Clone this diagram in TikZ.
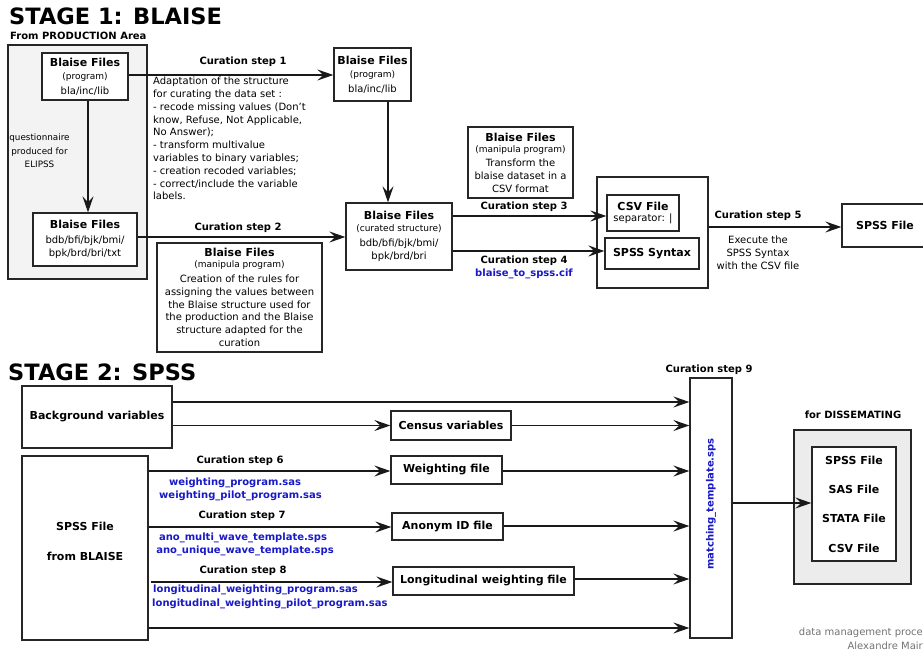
\documentclass[tikz,border=0pt]{standalone}
\usepackage{fontspec}
\setmainfont{DejaVu Sans}
\usetikzlibrary{arrows.meta}
\definecolor{fileblue}{RGB}{25,25,200}
\definecolor{prodgray}{RGB}{243,243,243}
\definecolor{dissgray}{RGB}{236,236,236}
\newcommand\fhdr{\fontsize{11}{13}\selectfont\bfseries}
\newcommand\fsubt{\fontsize{9}{11}\selectfont}
\newcommand\fbody{\fontsize{10}{12.8}\selectfont}
\newcommand\flab{\fontsize{10}{12.5}\selectfont\bfseries}
\newcommand\fbig{\fontsize{11}{29.3}\selectfont\bfseries}
\newcommand\ftitle{\fontsize{22.5}{26}\selectfont\bfseries}
\tikzset{
  box/.style={draw=black!85, line width=1.3pt, inner sep=0pt, align=center, font=\fbody},
  arr/.style={draw=black!90, line width=1.2pt, -{Stealth[length=16pt,width=11pt,inset=6pt]}},
  lab/.style={inner sep=0pt, font=\flab},
  bluetxt/.style={inner sep=0pt, font=\flab, text=fileblue, align=center},
  txt/.style={inner sep=0pt, font=\fbody, align=center}
}
\begin{document}
\begin{tikzpicture}[x=1pt,y=-1pt]
\path[use as bounding box, fill=white] (0,0) rectangle (923,652);

% ---------- STAGE 1 ----------
\node[inner sep=0pt, anchor=base west, font=\ftitle] (t1) at (9,25) {STAGE 1: BLAISE};
\node[inner sep=0pt, anchor=base west, font=\fontsize{10}{12}\selectfont\bfseries] (t1b) at (10,40) {From PRODUCTION Area};

\node[box, fill=prodgray, minimum width=139, minimum height=234] (prod) at (77.5,162) {};
\node[box, fill=white, minimum width=86, minimum height=47] (prog1) at (85,76.5)
  {{\fhdr Blaise Files}\\{\fsubt (program)}\\[2pt]bla/inc/lib};
\node[box, fill=white, minimum width=104, minimum height=53] (bdb1) at (85,239.5)
  {{\fhdr Blaise Files}\\[2pt]bdb/bfi/bjk/bmi/\\bpk/brd/bri/txt};
\node[inner sep=0pt, align=center, font=\fontsize{8.8}{13.5}\selectfont] (quest) at (39.5,151) {questionnaire\\produced for\\ELIPSS};
\draw[arr] ([xshift=3pt]prog1.south) -- ([xshift=3pt]prog1.south |- bdb1.north);

\node[box, minimum width=77, minimum height=53] (prog2) at (372.5,74.5)
  {{\fhdr Blaise Files}\\{\fsubt (program)}\\[2pt]bla/inc/lib};
\draw[arr] (prog1.east |- 0,75) -- (prog2.west |- 0,75);
\node[lab] (s1) at (243,62) {Curation step 1};
\node[inner sep=0pt, anchor=north west, align=left, font=\fbody] (desc) at (153,77)
  {Adaptation of the structure\\for curating the data set :\\- recode missing values (Don't\\know, Refuse, Not Applicable,\\No Answer);\\- transform multivalue\\variables to binary variables;\\- creation recoded variables;\\- correct/include the variable\\labels.};

\node[box, minimum width=106, minimum height=67] (cur) at (399,236.5)
  {{\fhdr Blaise Files}\\[-1pt]{\fsubt (curated structure)}\\[2pt]bdb/bfi/bjk/bmi/\\bpk/brd/bri};
\draw[arr] (prog2.south -| 388,0) -- (cur.north -| 388,0);

\draw[arr] (bdb1.east |- 0,237) -- (cur.west |- 0,237);
\node[lab] (s2) at (238,228) {Curation step 2};
\node[box, minimum width=165, minimum height=109] (man1) at (239.5,297.5)
  {{\fhdr Blaise Files}\\[-2pt]{\fsubt (manipula program)}\\[2pt]Creation of the rules for\\assigning the values between\\the Blaise structure used for\\the production and the Blaise\\structure adapted for the\\curation};

\node[box, minimum width=105, minimum height=71] (man2) at (520.5,162.5)
  {{\fhdr Blaise Files}\\[-1pt]{\fsubt (manipula program)}\\[1pt]Transform the\\blaise dataset in a\\CSV format};

\node[box, minimum width=111, minimum height=111] (cont) at (652.5,232.5) {};
\node[box, minimum width=72, minimum height=36] (csv) at (643,213)
  {{\fhdr CSV File}\\[-1pt]separator: |};
\node[box, minimum width=94, minimum height=31, font=\fhdr] (syn) at (652,253.5) {SPSS Syntax};

\draw[arr] (cur.east |- 0,216) -- (csv.west |- 0,216);
\node[lab] (s3) at (524,207) {Curation step 3};
\draw[arr] (cur.east |- 0,251) -- (syn.west |- 0,251);
\node[lab] (s4) at (524,261) {Curation step 4};
\node[bluetxt] (cif) at (524,274) {blaise\_to\_spss.cif};

\node[box, minimum width=86, minimum height=43, font=\fhdr] (spssF) at (885,225.5) {SPSS File};
\draw[arr] (cont.east |- 0,227) -- (spssF.west |- 0,227);
\node[lab] (s5) at (758,216) {Curation step 5};
\node[txt] (exec) at (758,252.5) {Execute the\\SPSS Syntax\\with the CSV file};

% ---------- STAGE 2 ----------
\node[inner sep=0pt, anchor=base west, font=\ftitle] (t2) at (8,380) {STAGE 2: SPSS};

\node[box, minimum width=150, minimum height=62, font=\fhdr] (bg) at (97,417) {Background variables};
\node[box, minimum width=120, minimum height=29, font=\fhdr] (census) at (451,425.5) {Census variables};
\node[box, minimum width=42, minimum height=260] (match) at (711,508) {};
\node[inner sep=0pt, rotate=90, font=\flab, text=fileblue] (mtxt) at (711,504) {matching\_template.sps};
\node[lab] (s9) at (709,370) {Curation step 9};

\node[box, minimum width=126, minimum height=184] (spss2) at (85,548) {};
\node[inner sep=0pt, align=center, font=\fbig] (spss2t) at (85,541.5) {SPSS File\\from BLAISE};

\node[box, minimum width=111, minimum height=28, font=\fhdr] (wgt) at (446.5,470) {Weighting file};
\node[box, minimum width=111, minimum height=27, font=\fhdr] (ano) at (447.5,526.5) {Anonym ID file};
\node[box, minimum width=181, minimum height=28, font=\fhdr] (long) at (483.5,581) {Longitudinal weighting file};

\draw[arr] (bg.east |- 0,402) -- (match.west |- 0,402);
\draw[arr] (bg.east |- census.west) -- (census.west);
\draw[arr] (census.east) -- (census.east -| match.west);

\draw[arr] (spss2.east |- 0,471) -- (wgt.west |- 0,471);
\draw[arr] (wgt.east |- 0,471) -- (match.west |- 0,471);
\node[lab] (s6) at (240,461) {Curation step 6};
\node[bluetxt] (b6a) at (235,483) {weighting\_program.sas};
\node[bluetxt] (b6b) at (240.5,496) {weighting\_pilot\_program.sas};

\draw[arr] (spss2.east |- 0,527) -- (ano.west |- 0,527);
\draw[arr] (ano.east |- 0,526) -- (match.west |- 0,526);
\node[lab] (s7) at (242,516) {Curation step 7};
\node[bluetxt] (b7a) at (243,538) {ano\_multi\_wave\_template.sps};
\node[bluetxt] (b7b) at (245,551) {ano\_unique\_wave\_template.sps};

\draw[arr] ([xshift=2pt]spss2.east |- 0,582) -- (long.west |- 0,582);
\draw[arr] (long.east |- 0,579) -- (match.west |- 0,579);
\node[lab] (s8) at (243,571) {Curation step 8};
\node[bluetxt, anchor=west] (b8a) at (153,590) {longitudinal\_weighting\_program.sas};
\node[bluetxt, anchor=west] (b8b) at (152,604) {longitudinal\_weighting\_pilot\_program.sas};

\draw[arr] (spss2.east |- 0,628) -- (match.west |- 0,628);

\node[lab] (diss) at (853,415) {for DISSEMATING};
\node[box, fill=dissgray, minimum width=117, minimum height=154] (outer) at (852.5,507) {};
\node[box, fill=white, minimum width=84, minimum height=114, font=\fbig] (inner) at (854,504)
  {SPSS File\\SAS File\\STATA File\\CSV File};
\draw[arr] (match.east |- 0,503) -- (inner.west |- 0,503);

\node[inner sep=0pt, anchor=east, font=\fbody, text=black!55] (f1) at (923,633) {data management proce};
\node[inner sep=0pt, anchor=east, font=\fbody, text=black!55] (f2) at (923,646) {Alexandre Mair};
\end{tikzpicture}
\end{document}
